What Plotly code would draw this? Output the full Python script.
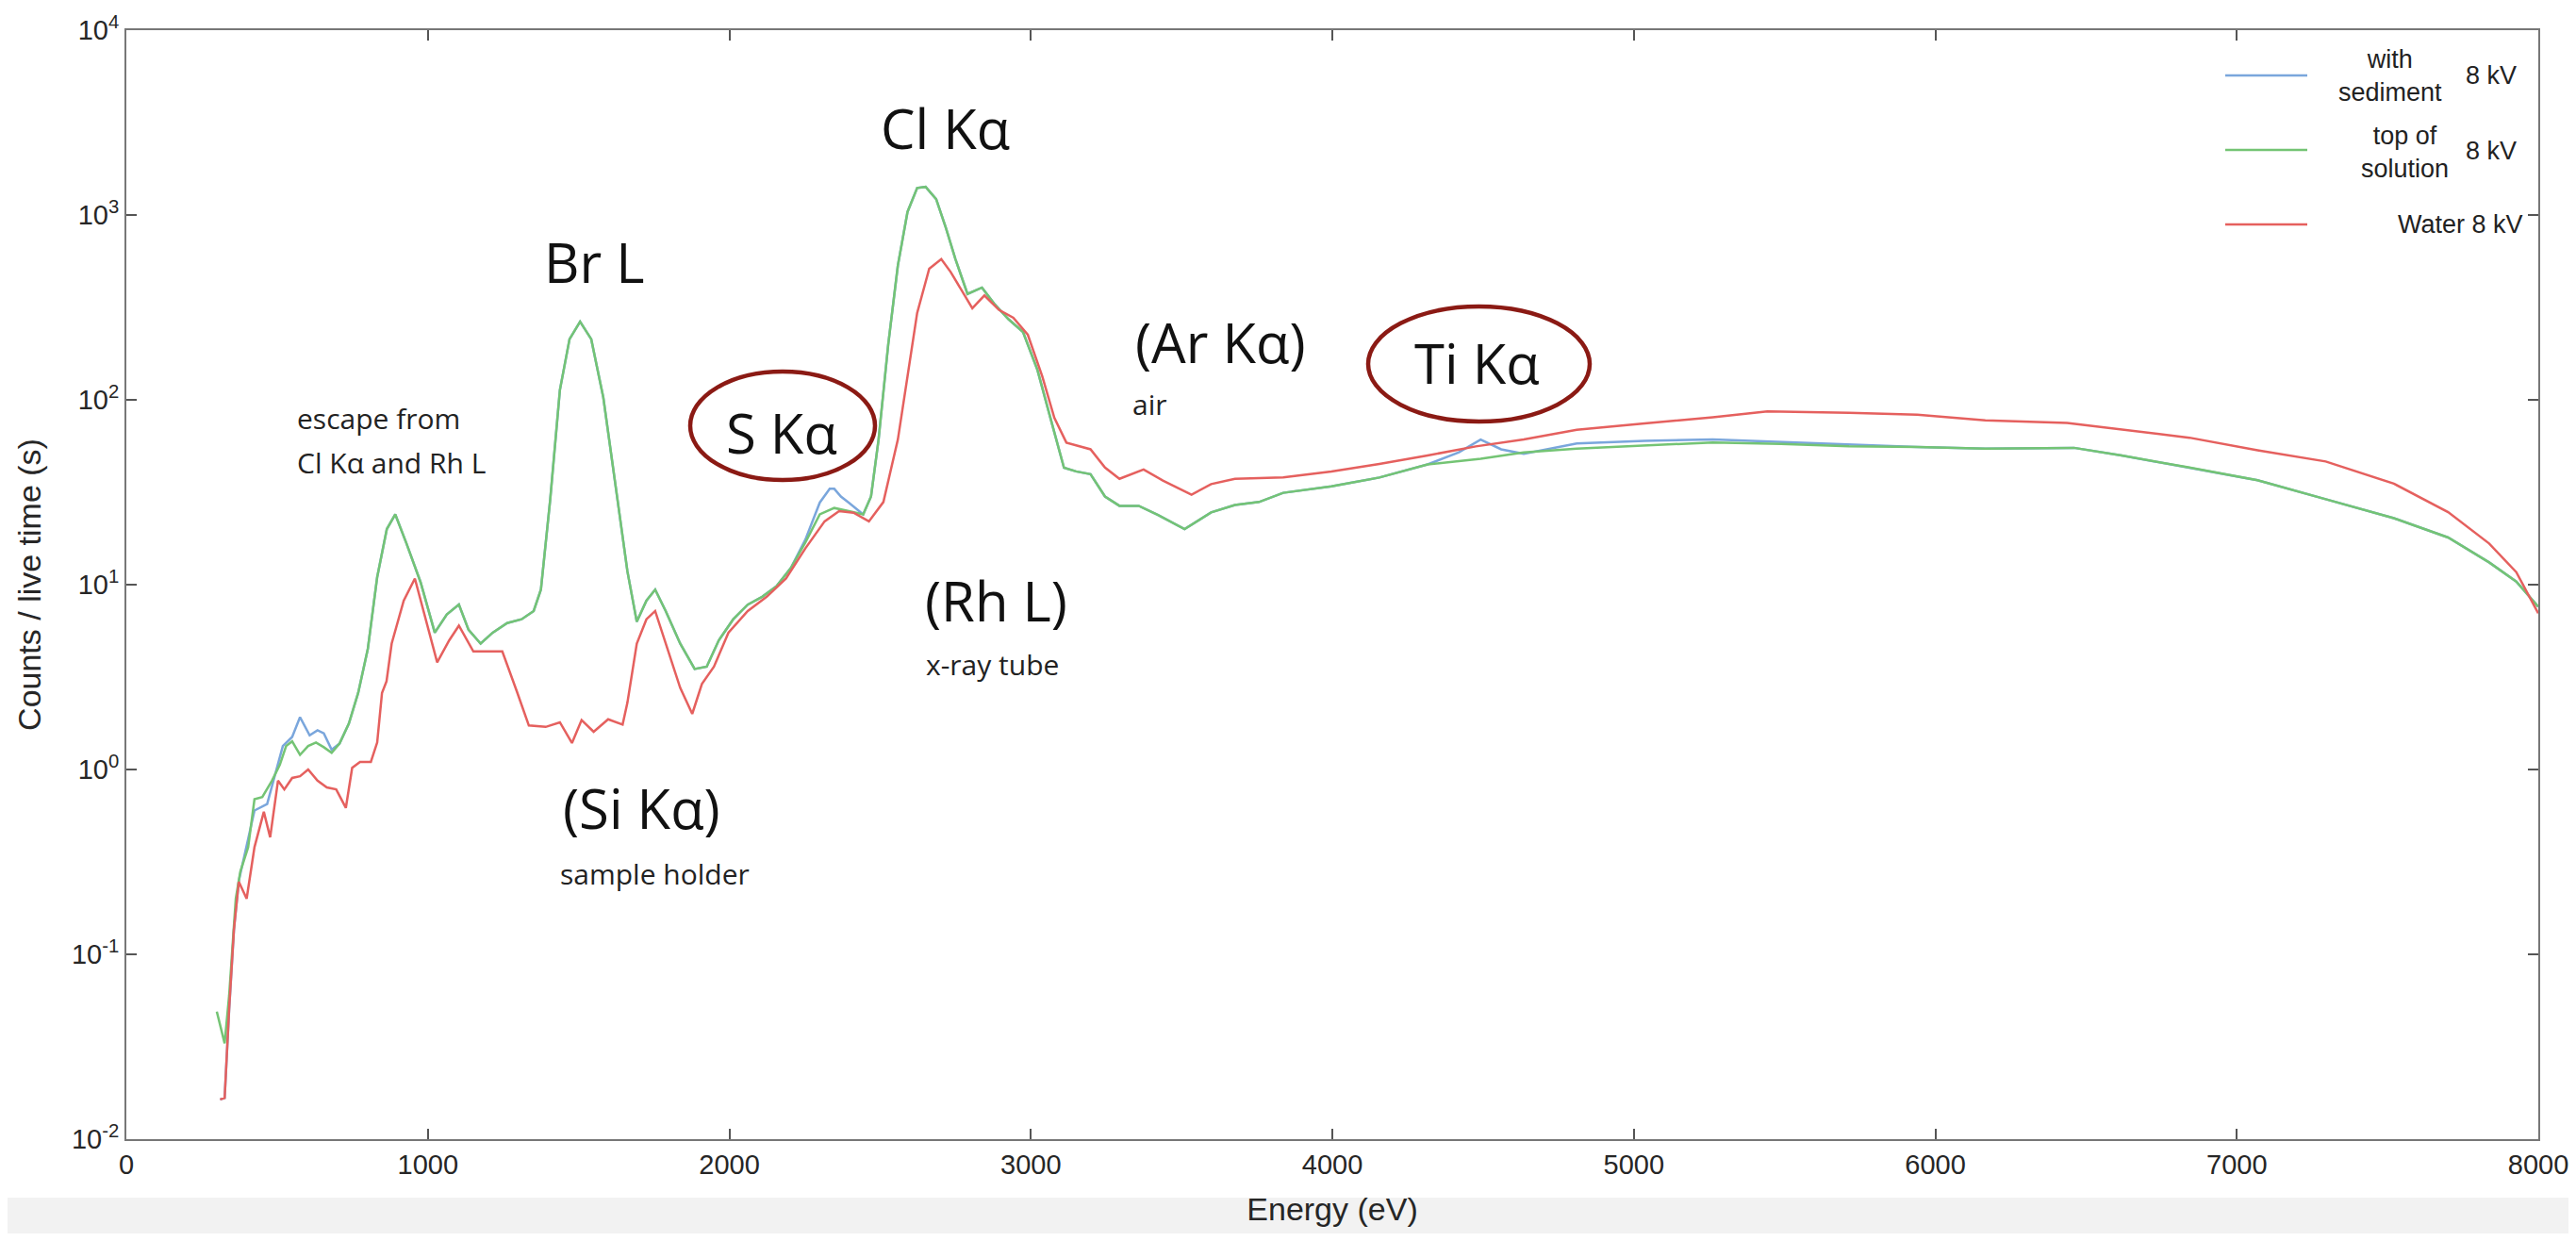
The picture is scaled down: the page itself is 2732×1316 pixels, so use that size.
import plotly.graph_objects as go

# ---------------- data ----------------
energy_top = [300, 326, 341, 363, 378, 404, 425, 451, 483, 509, 530, 550, 576, 603, 629, 655, 681, 707,
              738, 769, 801, 832, 864, 892, 928, 976, 1023, 1063, 1103, 1135, 1175, 1215, 1263, 1311,
              1351, 1375, 1406, 1438, 1470, 1505, 1542, 1582, 1622, 1662, 1693, 1725, 1754, 1789, 1837,
              1885, 1925, 1965, 2013, 2061, 2109, 2156, 2204, 2252, 2300, 2348, 2396, 2444, 2470, 2495,
              2527, 2559, 2591, 2623, 2651, 2686, 2718, 2750, 2790, 2838, 2878, 2926, 2974, 3022, 3070,
              3110, 3150, 3198, 3246, 3294, 3358, 3422, 3510, 3598, 3677, 3757, 3837, 3997, 4156, 4316,
              4492, 4635, 4811, 5036, 5262, 5488, 5714, 5940, 6166, 6460, 6618, 6843, 7069, 7295, 7521,
              7701, 7837, 7927, 8000]
counts_top = [0.049, 0.033, 0.06, 0.2, 0.28, 0.38, 0.69, 0.71, 0.87, 1.06, 1.34, 1.42, 1.2, 1.34, 1.4, 1.32,
              1.23, 1.38, 1.77, 2.6, 4.5, 11.0, 20, 24, 16.9, 10.3, 5.5, 6.9, 7.8, 5.7, 4.8, 5.5, 6.2, 6.5,
              7.2, 9.4, 29, 113, 213, 265, 213, 103, 35, 11.8, 6.3, 8.2, 9.4, 7.2, 4.8, 3.5, 3.6, 5.0, 6.5,
              7.8, 8.6, 9.8, 12.3, 16.9, 24, 26, 25, 24, 30, 61, 199, 533, 1040, 1400, 1420, 1220, 855,
              577, 374, 405, 332, 273, 233, 145, 74.5, 42.9, 41, 39.6, 30, 26.7, 26.7, 23.8, 20, 24.6, 27,
              28, 31.4, 34, 38, 44.7, 48, 52, 54.5, 56.6, 58.8, 57.7, 56, 55.5, 54.5, 55, 50, 43, 36.7,
              29, 22.9, 18, 13.2, 10.4, 7.6]

energy_sed = [311, 326, 341, 357, 373, 394, 425, 467, 490, 519, 550, 576, 608, 634, 655, 681, 707, 738,
              769, 801, 832, 864, 892, 928, 976, 1023, 1063, 1103, 1135, 1175, 1215, 1263, 1311, 1351,
              1375, 1406, 1438, 1470, 1505, 1542, 1582, 1622, 1662, 1693, 1725, 1754, 1789, 1837, 1885,
              1925, 1965, 2013, 2061, 2109, 2156, 2204, 2252, 2300, 2333, 2348, 2370, 2396, 2444, 2470,
              2495, 2527, 2559, 2591, 2623, 2651, 2686, 2718, 2750, 2790, 2838, 2878, 2926, 2974, 3022,
              3070, 3110, 3150, 3198, 3246, 3294, 3358, 3422, 3510, 3598, 3677, 3757, 3837, 3997, 4156,
              4316, 4420, 4492, 4560, 4635, 4811, 5036, 5262, 5488, 5714, 5940, 6166, 6460, 6618, 6843,
              7069, 7295, 7521, 7701, 7837, 7927, 8000]
counts_sed = [0.0164, 0.0167, 0.05, 0.137, 0.25, 0.36, 0.6, 0.65, 0.9, 1.34, 1.5, 1.92, 1.53, 1.63, 1.57,
              1.28, 1.38, 1.77, 2.6, 4.5, 11.0, 20, 24, 16.9, 10.3, 5.5, 6.9, 7.8, 5.7, 4.8, 5.5, 6.2, 6.5,
              7.2, 9.4, 29, 113, 213, 265, 213, 103, 35, 11.8, 6.3, 8.2, 9.4, 7.2, 4.8, 3.5, 3.6, 5.0, 6.5,
              7.8, 8.6, 9.8, 12.3, 17.5, 27.8, 33, 33, 30, 27.8, 24, 30, 61, 199, 533, 1040, 1400, 1420,
              1220, 855, 577, 374, 405, 332, 273, 233, 145, 74.5, 42.9, 41, 39.6, 30, 26.7, 26.7, 23.8, 20,
              24.6, 27, 28, 31.4, 34, 38, 44.7, 52, 61, 54, 51, 58, 60, 61, 59, 57, 55.5, 54.5, 55, 50, 43,
              36.7, 29, 22.9, 18, 13.2, 10.4, 7.6]

energy_water = [311, 326, 341, 357, 373, 399, 425, 456, 477, 503, 524, 550, 576, 603, 634, 665, 696, 728,
                749, 775, 811, 832, 848, 863, 880, 920, 957, 992, 1031, 1071, 1103, 1151, 1199, 1247, 1295,
                1335, 1391, 1438, 1478, 1510, 1550, 1598, 1646, 1662, 1693, 1725, 1754, 1789, 1837, 1877,
                1909, 1949, 1997, 2061, 2124, 2188, 2252, 2316, 2364, 2412, 2463, 2511, 2559, 2591, 2623,
                2663, 2703, 2734, 2766, 2806, 2846, 2894, 2942, 2990, 3038, 3078, 3118, 3166, 3198, 3246,
                3294, 3374, 3438, 3533, 3598, 3677, 3837, 3997, 4156, 4316, 4476, 4635, 4811, 5036, 5262,
                5443, 5714, 5940, 6166, 6437, 6618, 6843, 7069, 7295, 7521, 7701, 7837, 7927, 8000]
counts_water = [0.0164, 0.0167, 0.051, 0.137, 0.247, 0.2, 0.38, 0.59, 0.43, 0.87, 0.78, 0.9, 0.92, 1.0,
                0.87, 0.8, 0.78, 0.62, 1.02, 1.1, 1.1, 1.4, 2.6, 3.0, 4.8, 8.2, 10.8, 6.5, 3.8, 5.0, 6.0,
                4.35, 4.35, 4.35, 2.65, 1.73, 1.7, 1.8, 1.39, 1.85, 1.6, 1.87, 1.75, 2.3, 4.8, 6.5, 7.2,
                4.8, 2.77, 2.0, 2.9, 3.6, 5.5, 7.2, 8.6, 10.8, 15.7, 22, 25, 24.5, 22, 28, 61, 134, 295,
                512, 577, 492, 405, 313, 367, 307, 278, 225, 134, 80, 58.7, 56, 54, 43, 37.4, 42, 36.6,
                30.7, 35, 37.4, 38, 41, 45, 50, 56, 61, 68.8, 74.5, 80.5, 86.5, 85, 83, 77.5, 75, 69,
                62.4, 53.3, 46.4, 35.2, 24.7, 16.7, 11.7, 7.0]

x_ticks = [0, 1000, 2000, 3000, 4000, 5000, 6000, 7000, 8000]
y_ticks = [1e-2, 1e-1, 1e0, 1e1, 1e2, 1e3, 1e4]
y_ticklabels = ["10<sup>-2</sup>", "10<sup>-1</sup>", "10<sup>0</sup>", "10<sup>1</sup>",
                "10<sup>2</sup>", "10<sup>3</sup>", "10<sup>4</sup>"]

series_names = ["with sediment 8 kV", "top of solution 8 kV", "Water 8 kV"]
series_colors = ["#7aa6dc", "#74c474", "#e5605e"]

# ---------------- figure ----------------
# the page body has an 8 px margin; positions below are given in window pixels
OFF = 8
W, H = 2732 - OFF, 1316 - 2 * OFF
PLOT_L, PLOT_R, PLOT_T, PLOT_B = 134, 2692, 32, 1208      # window pixels
L, R, T, B = PLOT_L - OFF, W - (PLOT_R - OFF), PLOT_T - OFF, H - (PLOT_B - OFF)
PW, PH = PLOT_R - PLOT_L, PLOT_B - PLOT_T


def px(x):
    return (x - PLOT_L) / PW


def py(y):
    return (PLOT_B - y) / PH


fig = go.Figure()
for xs, ys, name, col in [(energy_sed, counts_sed, series_names[0], series_colors[0]),
                          (energy_top, counts_top, series_names[1], series_colors[1]),
                          (energy_water, counts_water, series_names[2], series_colors[2])]:
    fig.add_trace(go.Scatter(x=xs, y=ys, mode="lines", name=name,
                             line=dict(color=col, width=2.5), showlegend=False))

axis_font = dict(family="Liberation Sans, Arial, sans-serif", size=29, color="#262626")
title_font = dict(family="Liberation Sans, Arial, sans-serif", size=34, color="#262626")
fig.update_layout(
    width=W, height=H,
    margin=dict(l=L, r=R, t=T, b=B, autoexpand=False),
    paper_bgcolor="white", plot_bgcolor="white",
    font=axis_font,
    xaxis=dict(range=[0, 8000], tickvals=x_ticks, ticks="inside", ticklen=11, tickwidth=2,
               tickcolor="#555", showline=True, linecolor="#777", linewidth=2, mirror="ticks",
               showgrid=False, zeroline=False, tickfont=axis_font, ticklabeloverflow="allow",
               title=dict(text="Energy (eV)", font=title_font, standoff=20)),
    yaxis=dict(type="log", range=[-2, 4], tickvals=y_ticks, ticktext=y_ticklabels, ticks="inside",
               ticklen=11, tickwidth=2, tickcolor="#555", showline=True, linecolor="#777", linewidth=2,
               mirror="ticks", showgrid=False, zeroline=False, tickfont=axis_font,
               title=dict(text="Counts / live time (s)", font=title_font, standoff=22)),
)

shapes = [
    # grey strip at the bottom of the screenshot
    dict(type="rect", xref="paper", yref="paper", x0=px(0), x1=px(2740), y0=py(1270), y1=py(1330),
         fillcolor="#f2f2f2", line=dict(width=0), layer="below"),
    # highlighted peaks
    dict(type="circle", xref="paper", yref="paper", x0=px(732), x1=px(928), y0=py(509), y1=py(394),
         line=dict(color="#8b1a14", width=4.5)),
    dict(type="circle", xref="paper", yref="paper", x0=px(1451), x1=px(1686), y0=py(447), y1=py(325),
         line=dict(color="#8b1a14", width=4.5)),
]
# legend samples
for yy, col in zip([80, 159, 238], series_colors):
    shapes.append(dict(type="line", xref="paper", yref="paper", x0=px(2360), x1=px(2447),
                       y0=py(yy), y1=py(yy), line=dict(color=col, width=2.5)))
fig.update_layout(shapes=shapes)

big = dict(family="Open Sans, Noto Sans, sans-serif", size=58, color="#111")
small = dict(family="Open Sans, Noto Sans, sans-serif", size=30, color="#222")
leg = dict(family="Liberation Sans, Arial, sans-serif", size=27, color="#222")

annots = [
    ("Br L", 630, 278, big, "center"),
    ("Cl Kα", 1003, 136, big, "center"),
    ("S Kα", 829, 458, big, "center"),
    ("Ti Kα", 1566, 384, big, "center"),
    ("(Ar Kα)", 1294, 362, big, "center"),
    ("(Rh L)", 1056, 636, big, "center"),
    ("(Si Kα)", 680, 857, big, "center"),
    ("air", 1199, 428, small, "left"),
    ("x-ray tube", 980, 704, small, "left"),
    ("sample holder", 592, 926, small, "left"),
    ("escape from", 313, 444, small, "left"),
    ("Cl Kα and Rh L", 313, 490, small, "left"),
    ("with<br>sediment", 2535, 80, leg, "center"),
    ("8 kV", 2613, 80, leg, "left"),
    ("top of<br>solution", 2550, 162, leg, "center"),
    ("8 kV", 2613, 160, leg, "left"),
    ("Water 8 kV", 2678, 238, leg, "right"),
]
for text, x, y, f, anc in annots:
    fig.add_annotation(text=text, xref="paper", yref="paper", x=px(x), y=py(y), xanchor=anc,
                       yanchor="middle", showarrow=False, font=f)

fig.write_html("out.html")
